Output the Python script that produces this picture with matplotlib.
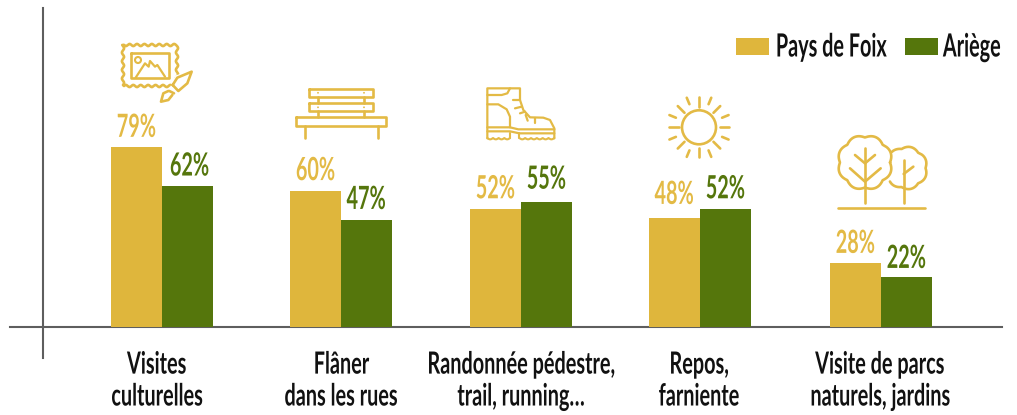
import numpy as np
import matplotlib
matplotlib.use("Agg")
import matplotlib.pyplot as plt
from matplotlib.patches import Rectangle, Circle
from matplotlib.patheffects import AbstractPathEffect
from matplotlib.transforms import Affine2D

categories = ["Visites\nculturelles", "Flâner\ndans les rues", "Randonnée pédestre,\ntrail, running…",
              "Repos,\nfarniente", "Visite de parcs\nnaturels, jardins"]
pays_de_foix = [79, 60, 52, 48, 28]
ariege = [62, 47, 55, 52, 22]
series_names = ["Pays de Foix", "Ariège"]

# group centres and category label centres, in image pixels
group_x = np.array([162, 341, 521, 700, 881])
label_x = [157, 341, 521, 699, 880]

# small hand nudges of the value labels, in points
gold_lift = [7.5, 7.5, 7.5, 10, 7.5]
green_lift = [7.5, 8, 9.5, 7.5, 6.5]
green_shift = [1.5, 0, 0, 0, 0]

GOLD = "#DFB63C"
GREEN = "#55760C"
ICON = "#E3BA45"
GREY = "#5E5E5E"
plt.rcParams["font.family"] = ["Lato", "DejaVu Sans"]


class Narrow(AbstractPathEffect):
    # squeezes each text line around its own centre, the font is too wide otherwise
    def __init__(self, sx):
        super().__init__()
        self.sx = sx

    def draw_path(self, renderer, gc, tpath, affine, rgbFace=None):
        ext = tpath.get_extents()
        cx = (ext.x0 + ext.x1) / 2
        squeeze = Affine2D().translate(-cx, 0).scale(self.sx, 1).translate(cx, 0)
        renderer.draw_path(gc, tpath, squeeze + affine, rgbFace)


narrow = [Narrow(0.62)]
narrow_cat = [Narrow(0.65)]

fig = plt.figure(figsize=(10.17, 4.15), dpi=100)
ax = fig.add_axes([0, 0, 1, 1])
ax.patch.set_visible(False)

# x runs in image pixels, one percent = 2.275 px
ax.set_xlim(0, 1017)
ax.set_ylim(-88 / 2.275, 327 / 2.275)

w = 51
ax.bar(group_x - w / 2, pays_de_foix, w, color=GOLD, zorder=3)
ax.bar(group_x + w / 2, ariege, w, color=GREEN, zorder=3)

for i in range(len(categories)):
    t = ax.annotate(f"{pays_de_foix[i]}%", (group_x[i] - w / 2, pays_de_foix[i]), xytext=(0, gold_lift[i]),
                    textcoords="offset points", ha="center", va="baseline",
                    color=ICON, fontsize=23, fontweight="bold")
    t.set_path_effects(narrow)
    t = ax.annotate(f"{ariege[i]}%", (group_x[i] + w / 2, ariege[i]), xytext=(green_shift[i], green_lift[i]),
                    textcoords="offset points", ha="center", va="baseline",
                    color=GREEN, fontsize=23, fontweight="bold")
    t.set_path_effects(narrow)

for s in ["top", "right"]:
    ax.spines[s].set_visible(False)
ax.spines["bottom"].set_position(("data", 0))
ax.spines["bottom"].set_bounds(10, 1002)
ax.spines["left"].set_position(("data", 43))
ax.spines["left"].set_bounds((327 - 358) / 2.275, (327 - 8) / 2.275)
for s in ["bottom", "left"]:
    ax.spines[s].set_color(GREY)
    ax.spines[s].set_linewidth(1.5)
ax.set_yticks([])
ax.set_xticks(label_x)
ax.set_xticklabels(categories, fontsize=22, fontweight="bold", linespacing=1.17, color="#111111")
ax.tick_params(axis="x", length=0, pad=17)
for lab in ax.get_xticklabels():
    lab.set_path_effects(narrow_cat)

# overlay in image pixels for the legend and the pictograms
px = fig.add_axes([0, 0, 1, 1])
px.set_xlim(0, 1017)
px.set_ylim(415, 0)
px.axis("off")

px.add_patch(Rectangle((736, 38), 33, 17, color=GOLD, lw=0))
px.add_patch(Rectangle((905, 38), 33, 17, color=GREEN, lw=0))
for name, cx in zip(series_names, [831, 972]):
    t = px.text(cx, 47, name, ha="center", va="center", fontsize=23, fontweight="bold", color="#111111")
    t.set_path_effects(narrow)


def line(pts, lw=1.9, close=False, zorder=2):
    pts = np.array(pts, dtype=float)
    if close:
        pts = np.vstack([pts, pts[:1]])
    px.plot(pts[:, 0], pts[:, 1], color=ICON, lw=lw, solid_capstyle="round", solid_joinstyle="round", zorder=zorder)


def box(x0, y0, x1, y1, lw=1.9):
    line([(x0, y0), (x1, y0), (x1, y1), (x0, y1)], lw, close=True)


def zoomed(ox, oy, pts):
    return [(ox + a / 3, oy + b / 3) for a, b in pts]


def cloud(cx, cy, r, bumps, t0=0, t1=2 * np.pi):
    t = np.linspace(t0, t1, 240)
    rr = r + r * 0.10 * np.abs(np.sin(bumps * t / 2))
    return np.column_stack([cx + rr * np.cos(t), cy + rr * np.sin(t)])


# painting and brush
side = np.linspace(0, 1, 60)
wav = 1.1 * np.sin(side * 2 * np.pi * 7)
frame = np.vstack([
    np.column_stack([124 + 52 * side, 45 + wav]),
    np.column_stack([177 + wav[:40], 46 + 40 * side[:40] / side[39]]),
    np.column_stack([176 - 52 * side, 86 + wav]),
    np.column_stack([123 + wav[:40], 85 - 40 * side[:40] / side[39]]),
])
line(frame, close=True)
box(131, 53, 169, 78)
px.add_patch(Circle((138, 60), 3, fill=False, ec=ICON, lw=1.5))
line(zoomed(100, 30, [(107, 143), (135, 100), (146, 110), (150, 93), (165, 110), (172, 105), (195, 140)]), 1.6)
# white under the brush so it cuts the frame
px.fill([170, 176, 192, 188, 178, 168], [89, 76, 71, 84, 94, 92], color="white", zorder=2.5)
line(zoomed(100, 30, [(218, 165), (232, 143), (275, 125), (262, 160), (235, 183), (218, 165)]), zorder=3)
line(zoomed(100, 30, [(208, 183), (222, 190)]), zorder=3)
line(zoomed(100, 30, [(205, 183), (190, 190), (183, 215), (205, 210), (217, 195)]), zorder=3)

# bench
box(309, 89, 373, 97)
box(309, 103.5, 373, 111.5)
box(296, 117.5, 386, 126)
for bx in [318, 364]:
    line([(bx, 97), (bx, 103.5)])
    line([(bx, 111.5), (bx, 117.5)])
    for by in [92.8, 107.3]:
        px.add_patch(Circle((bx, by), 0.9, color=ICON, lw=0))
line([(304.5, 126), (304.5, 138)])
line([(377.5, 126), (377.5, 138)])

# boot
line(zoomed(460, 70, [(82, 205), (82, 55), (180, 55), (180, 90), (190, 120), (210, 142), (250, 143),
                      (270, 150), (283, 175), (283, 205)]), 1.6)
line(zoomed(460, 70, [(82, 172), (150, 172), (175, 178), (283, 178)]), 1.6)
line(zoomed(460, 70, [(82, 184), (150, 184), (178, 190), (283, 190)]), 1.6)
line(zoomed(460, 70, [(82, 75), (125, 75), (142, 70), (150, 55)]), 1.6)
line(zoomed(460, 70, [(82, 103), (115, 103), (140, 118), (150, 140), (150, 172)]), 1.6)
for a, b, c, d in [(160, 90, 180, 90), (165, 115, 185, 110), (180, 130, 195, 125), (197, 135, 203, 152),
                   (224, 143, 224, 160)]:
    line(zoomed(460, 70, [(a, b), (c, d)]), 1.6)
for x0, x1, n in [(82, 150, 4), (178, 283, 6)]:
    xs = np.linspace(x0, x1, 80)
    ys = 204 + 4 * np.abs(np.sin((xs - x0) / (x1 - x0) * n * np.pi))
    line(zoomed(460, 70, np.column_stack([xs, ys])), 1.5)
line(zoomed(460, 70, [(150, 190), (150, 205)]), 1.5)
line(zoomed(460, 70, [(178, 190), (178, 205)]), 1.5)

# sun
px.add_patch(Circle((699, 127.3), 17, fill=False, ec=ICON, lw=1.9))
for deg in range(0, 360, 45):
    a = np.radians(deg)
    line([(699 + 20.5 * np.cos(a), 127.3 + 20.5 * np.sin(a)), (699 + 30 * np.cos(a), 127.3 + 30 * np.sin(a))])
    a = np.radians(deg + 22.5)
    line([(699 + 25 * np.cos(a), 127.3 + 25 * np.sin(a)), (699 + 32 * np.cos(a), 127.3 + 32 * np.sin(a))])

# trees
line([(838, 208), (925, 208)])
line(cloud(865, 162.5, 25, 8))
line(cloud(906, 168, 19.5, 7, np.radians(229), np.radians(500)))
line(zoomed(720, 20, [(435, 385), (435, 550)]))
line(zoomed(720, 20, [(405, 405), (435, 430), (465, 405)]))
line(zoomed(720, 20, [(390, 445), (435, 485), (482, 445)]))
line(zoomed(720, 20, [(551, 420), (551, 550)]))
line(zoomed(720, 20, [(551, 462), (580, 440)]))

fig.savefig("out.png", dpi=100)
